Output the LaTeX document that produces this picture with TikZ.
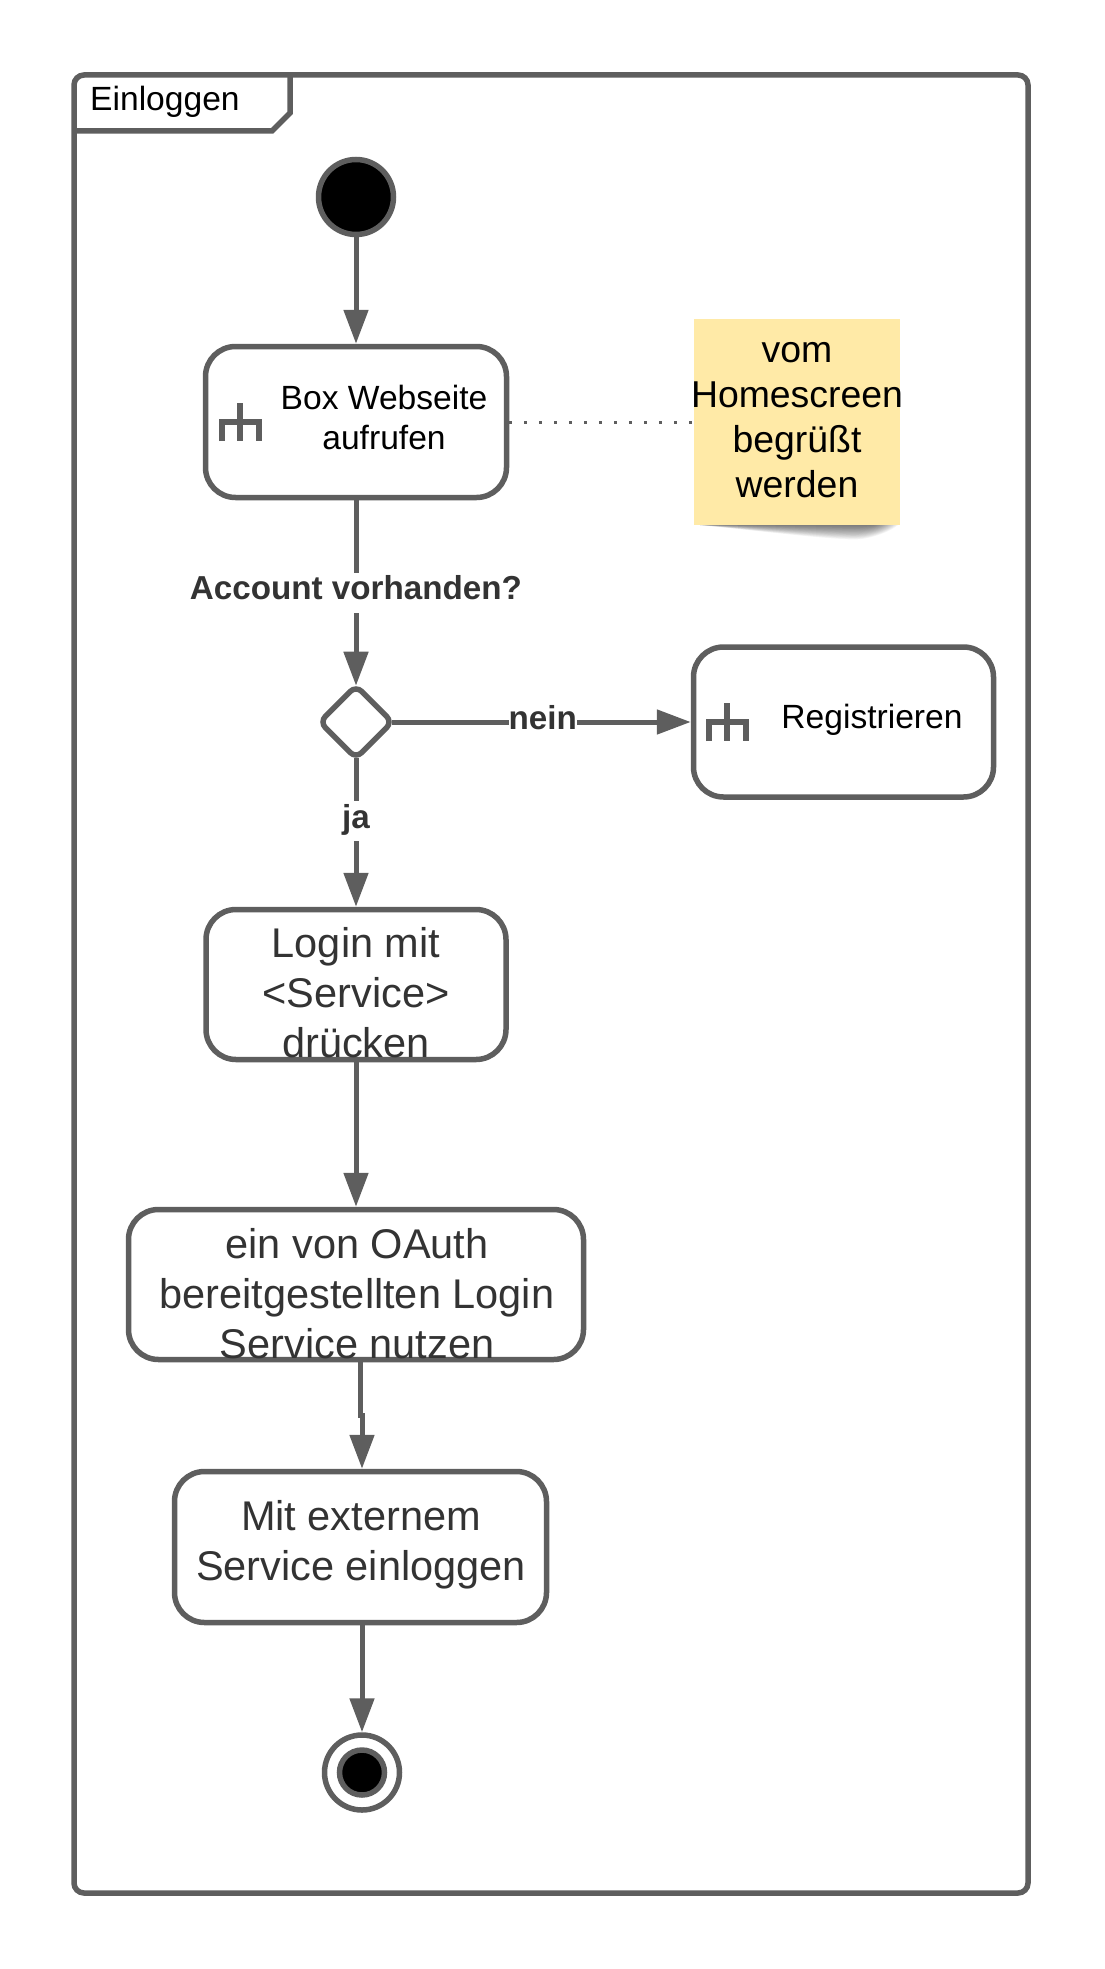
\documentclass[tikz,border=0pt]{standalone}
\usepackage{fontspec}
\setmainfont{Liberation Sans}
\usetikzlibrary{positioning}
\usetikzlibrary{arrows.meta}
\usetikzlibrary{shapes.geometric}
\definecolor{Stroke}{HTML}{5E5E5E}
\definecolor{Ink}{HTML}{333333}
\definecolor{Sticky}{HTML}{FFEAA7}

\tikzset{
  action/.style={draw=Stroke, line width=5.5pt, rounded corners=30pt, fill=white, inner sep=0pt},
  flow/.style={draw=Stroke, line width=5pt, -{Triangle[length=34pt,width=24pt]}},
  branch/.style={fill=white, inner sep=0pt, text=Ink, font=\fontsize{33.2}{40}\selectfont\bfseries, text height=27pt, text depth=13pt},
  smalltxt/.style={inner sep=0pt, align=center, font=\fontsize{33.6}{40}\selectfont},
  bigtxt/.style={inner sep=0pt, align=center, text=Ink, font=\fontsize{41.5}{50}\selectfont},
}

\begin{document}
\begin{tikzpicture}[x=1pt, y=-1pt]
\useasboundingbox (0,0) rectangle (1104,1969);

% frame and its tab
\node[draw=Stroke, line width=5.5pt, rounded corners=10pt, inner sep=0pt, minimum width=954pt, minimum height=1818pt] (frame) at (551,984) {};
\draw[Stroke, line width=5.5pt] (74,131) -- (272,131) -- (290,113) -- (290,75);
\node[smalltxt, anchor=base west] (frametxt) at (90,111) {Einloggen};

\node[circle, draw=Stroke, line width=5.5pt, fill=black, inner sep=0pt, minimum size=75pt] (start) at (356,197) {};

\node[action, minimum width=301pt, minimum height=151pt] (webseite) at (356,422) {};
\node[smalltxt] (webseitetxt) at (384,417.5) {Box Webseite\\aufrufen};

% sticky note
\foreach \d in {1,...,16}
  \fill[black, opacity=.045] (700,525) .. controls (770,{525+.45*\d}) and (830,{525+.9*\d}) .. (855,{525+.9*\d}) .. controls (868,{525+.9*\d}) and ({872+\d},{525+.5*\d}) .. ({874+1.5*\d},525) -- cycle;
\node[fill=Sticky, inner sep=0pt, minimum size=206pt] (note) at (797,422) {};
\node[inner sep=0pt, align=center, font=\fontsize{37.4}{45}\selectfont] (notetxt) at (797,420.5) {vom\\Homescreen\\begrüßt\\werden};

\node[diamond, aspect=1, draw=Stroke, line width=5.5pt, rounded corners=8pt, fill=white, inner sep=0pt, outer sep=0pt, minimum size=72.6pt] (gate) at (356,722) {};

\node[action, minimum width=300pt, minimum height=150pt] (register) at (843.5,722) {};
\node[smalltxt, anchor=base] (registertxt) at (872,728) {Registrieren};

\node[action, minimum width=300pt, minimum height=150pt] (login) at (356,984.5) {};
\node[bigtxt] (logintxt) at (356,992.5) {Login mit\\<Service>\\drücken};

\node[action, minimum width=455pt, minimum height=150pt] (oauth) at (356,1284.5) {};
\node[bigtxt] (oauthtxt) at (357,1293.5) {ein von OAuth\\bereitgestellten Login\\Service nutzen};

\node[action, minimum width=372pt, minimum height=151pt] (extern) at (360.5,1547) {};
\node[bigtxt] (externtxt) at (361,1544.5) {Mit externem\\Service einloggen};

\node[circle, draw=Stroke, line width=5.5pt, inner sep=0pt, minimum size=75pt] (finish) at (362,1772.5) {};
\node[circle, draw=Stroke, line width=5.5pt, fill=black, inner sep=0pt, minimum size=45pt] (finishdot) at (362,1772.5) {};

% fork icons
\foreach \x / \y in {240/422, 727/722} {
  \draw[Stroke, line width=6pt] (\x-18.5,\y+19) -- (\x-18.5,\y) -- (\x+18.5,\y) -- (\x+18.5,\y+19);
  \draw[Stroke, line width=6pt] (\x,\y-19) -- (\x,\y+19);
}

\coordinate (jogA) at (360,1415);
\coordinate (jogB) at (362,1415);

\draw[flow] (start) -- (webseite);
\draw[flow] (webseite) -- node[branch] (question) {Account vorhanden?} (gate);
\draw[flow] (gate) -- node[branch, pos=.504] (no) {nein} (register);
\draw[flow] (gate) -- node[branch, pos=.425] (yes) {ja} (login);
\draw[flow] (login) -- (oauth);
\draw[flow] (oauth.south -| jogA) -- (jogA) -- (jogB) -- (extern.north -| jogB);
\draw[flow] (extern.south -| finish) -- (finish);
\draw[Stroke, line width=3pt, dash pattern=on 3pt off 12pt] (webseite) -- (note);
\end{tikzpicture}
\end{document}
